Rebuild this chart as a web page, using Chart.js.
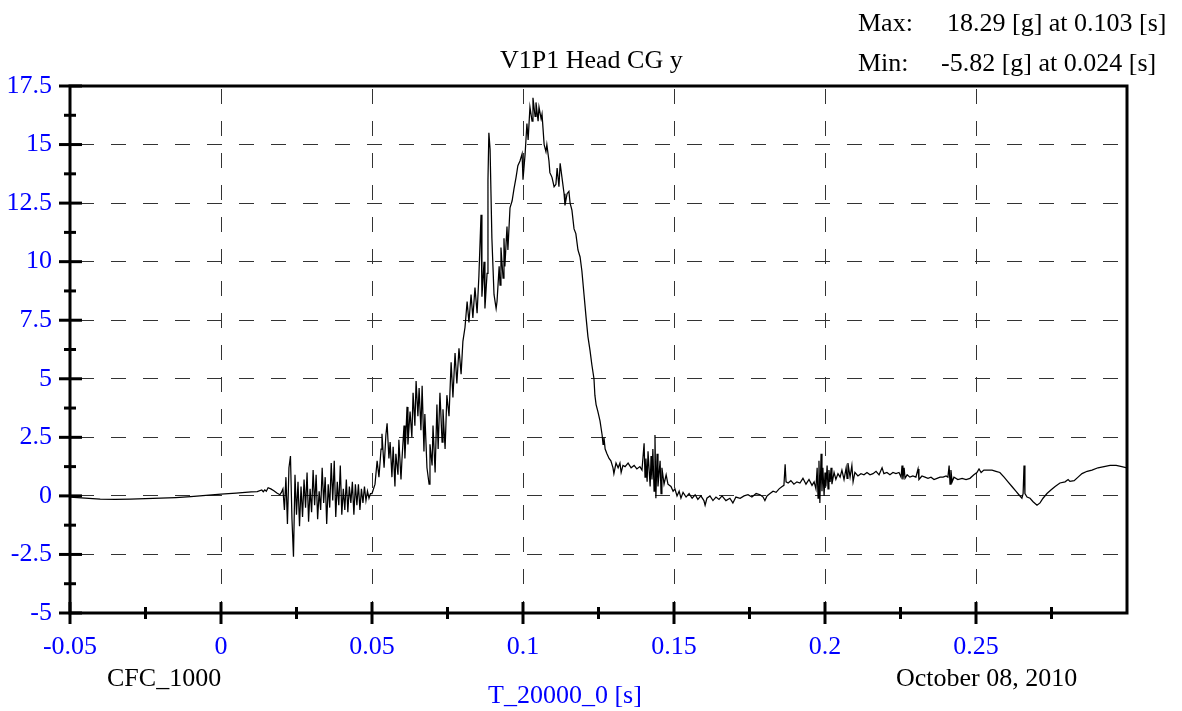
<!DOCTYPE html>
<html>
<head>
<meta charset="utf-8">
<script src="https://cdn.jsdelivr.net/npm/chart.js@4.4.0/dist/chart.umd.min.js"></script>
<style>
html,body{margin:0;padding:0;background:#fff;}
#wrap{position:relative;width:1182px;height:711px;overflow:hidden;font-family:'Liberation Serif','Times New Roman',serif;}
#wrap canvas{position:absolute;left:0;top:0;}
.t{position:absolute;font-size:26px;line-height:26px;white-space:nowrap;color:#000;}
.blue{color:#0000ff;}
</style>
</head>
<body>
<div id="wrap">
<canvas id="c" width="1182" height="711"></canvas>
<div class="t" style="left:858px;top:10px">Max:</div>
<div class="t" style="left:947px;top:10px">18.29 [g] at 0.103 [s]</div>
<div class="t" style="left:858px;top:50px">Min:</div>
<div class="t" style="left:941px;top:50px">-5.82 [g] at 0.024 [s]</div>
<div class="t" style="left:500px;top:47px">V1P1 Head CG y</div>
<div class="t" style="left:107px;top:665px">CFC_1000</div>
<div class="t" style="left:896px;top:665px">October 08, 2010</div>
<div class="t blue" style="left:488px;top:682px">T_20000_0 [s]</div>
</div>
<script>
// ---- data (time in s, acceleration in g) ----
const timeQuiet = [
-0.05,-0.045,-0.04,-0.035,-0.03,-0.025,-0.02,-0.015,-0.01,-0.005,
0,0.005,0.008,0.01,0.012,0.0135,0.014,0.0145,0.015,0.0156,
0.0165,0.0175,0.0185,0.0195,0.02];
const accelQuiet = [
-0.05,-0.10,-0.14,-0.15,-0.14,-0.12,-0.10,-0.07,-0.03,0.02,
0.08,0.12,0.15,0.17,0.18,0.25,0.18,0.26,0.20,0.35,
0.30,0.22,0.12,0.05,0.15];

const timeNoise = [
0.0205,0.021,0.0215,0.022,0.0225,0.023,0.0235,0.024,0.0245,0.025,
0.0255,0.026,0.0265,0.027,0.0275,0.028,0.0285,0.029,0.0295,0.03,
0.0305,0.031,0.0315,0.032,0.0325,0.033,0.0335,0.034,0.0345,0.035,
0.0355,0.036,0.0365,0.037,0.0375,0.038,0.0385,0.039,0.0395,0.04,
0.0405,0.041,0.0415,0.042,0.0425,0.043,0.0435,0.044,0.0445,0.045,
0.0455,0.046,0.0465,0.047,0.0475,0.048,0.0485,0.049,0.0495,0.05];
const accelNoise = [
0.3,-0.6,0.8,-1.2,1.2,1.7,-1.0,-2.6,0.9,-0.8,
0.6,-1.3,0.4,-0.9,0.7,-0.5,1.0,-1.1,0.3,-0.7,
1.1,-0.4,0.9,-1.0,0.2,-0.6,1.2,-0.3,0.8,-1.2,
0.5,-0.5,1.4,-0.2,1.5,-0.9,0.6,-0.4,1.3,-0.8,
0.3,-0.6,0.7,-0.7,0.4,-0.3,0.6,-0.8,0.5,-0.4,
0.5,-0.6,0.3,-0.3,0.4,-0.2,0.2,-0.1,0.1,0.1];

const timePulse = [
0.0510,0.0517,0.0523,0.0530,0.0533,0.0540,0.0546,0.0550,0.0556,0.0560,
0.0566,0.0570,0.0576,0.0579,0.0586,0.0589,0.0596,0.0599,0.0606,0.0609,
0.0616,0.0619,0.0626,0.0632,0.0636,0.0642,0.0646,0.0652,0.0656,0.0662,
0.0666,0.0672,0.0675,0.0682,0.0689,0.0692,0.0699,0.0702,0.0709,0.0715,
0.0719,0.0725,0.0732,0.0735,0.0742,0.0748,0.0755,0.0762,0.0768,0.0775,
0.0781,0.0788,0.0795,0.0801,0.0808,0.0815,0.0821,0.0828,0.0834,0.0841,
0.0848,0.0854,0.0861,0.0864,0.0871,0.0874,0.0881,0.0884,0.0887,0.0891,
0.0897,0.0904,0.0911,0.0914,0.0921,0.0924,0.0927,0.0934,0.0937,0.0940,
0.0947,0.0950,0.0957,0.0964,0.0970,0.0977,0.0983,0.0990,0.0997,0.1000,
0.1007,0.1013,0.1017,0.1023,0.1030,0.1033,0.1040,0.1043,0.1050,0.1053,
0.1060,0.1063,0.1070,0.1076,0.1079,0.1086,0.1089,0.1096,0.1103,0.1109,
0.1113,0.1119,0.1123,0.1129,0.1136,0.1139,0.1146,0.1152,0.1156,0.1162,
0.1169,0.1175,0.1182,0.1189,0.1195,0.1202,0.1209,0.1215,0.1222,0.1228,
0.1235,0.1238,0.1242,0.1248,0.1255,0.1262,0.1265,0.1268,0.1272,0.1278,
0.1285,0.1291,0.1298,0.1301,0.1308,0.1315,0.1321,0.1325,0.1331,0.1338,
0.1348,0.1358,0.1368,0.1377,0.1387,0.1394];
const accelPulse = [
0.5,1.5,0.8,2.0,2.65,1.2,2.6,3.1,1.6,2.3,
0.8,2.1,0.4,1.8,0.9,2.4,0.7,1.5,3.0,1.6,
3.8,2.2,3.6,2.5,4.4,3.0,4.9,3.4,4.6,2.8,
4.7,1.9,3.5,1.2,0.5,2.2,1.3,3.0,1.0,3.9,
2.0,4.4,2.3,3.7,2.0,4.3,3.4,5.7,4.2,6.1,
4.8,6.3,5.2,6.6,7.2,8.3,7.4,8.6,7.6,8.9,
7.8,9.4,12.0,8.5,10.0,8.0,9.5,13.5,15.5,14.8,
11.0,8.6,8.0,8.3,9.8,9.0,10.6,9.3,11.0,9.8,
11.5,10.5,12.3,12.6,13.1,13.6,14.1,14.3,14.6,13.5,
14.6,15.9,15.2,16.6,16.0,17.0,16.2,16.8,16.0,16.6,
16.1,16.3,15.0,14.7,15.0,14.3,13.8,13.6,13.2,13.3,
14.0,13.2,14.2,13.6,12.9,12.4,12.9,13.0,12.5,12.2,
11.4,11.2,10.5,10.2,9.6,8.6,7.6,6.8,6.2,5.6,
5.0,4.3,3.9,3.6,3.2,2.6,2.2,2.5,2.0,1.8,
1.6,1.5,1.2,0.95,1.4,1.2,1.4,1.0,1.3,1.25,
1.4,1.2,1.3,1.15,1.25,1.1];

const timeTail = [
0.1401,0.1404,0.1407,0.1411,0.1414,0.1421,0.1424,0.1427,0.1430,0.1434,
0.1437,0.1440,0.1444,0.1447,0.1454,0.1457,0.1460,0.1467,0.1474,0.1480,
0.1490,0.1497,0.1503,0.1510,0.1517,0.1523,0.1530,0.1540,0.1550,0.1560,
0.1570,0.1579,0.1589,0.1599,0.1603,0.1609,0.1619,0.1629,0.1639,0.1649,
0.1659,0.1672,0.1685,0.1695,0.1705,0.1719,0.1732,0.1745,0.1758,0.1772,
0.1785,0.1795,0.1801,0.1808,0.1818,0.1828,0.1838,0.1848,0.1858,0.1864,
0.1868,0.1871,0.1878,0.1887,0.1897,0.1907,0.1917,0.1927,0.1937,0.1947,
0.1957,0.1964,0.1970,0.1974,0.1977,0.1980,0.1983,0.1987,0.1990,0.1993,
0.1997,0.2000,0.2003,0.2007,0.2010,0.2013,0.2017,0.2020,0.2023,0.2030,
0.2036,0.2043,0.2050,0.2056,0.2063,0.2070,0.2073,0.2076,0.2083,0.2089,
0.2093,0.2099,0.2109,0.2119,0.2129,0.2139,0.2149,0.2159,0.2169,0.2179,
0.2189,0.2195,0.2205,0.2215,0.2225,0.2235,0.2245,0.2252,0.2255,0.2258,
0.2262,0.2265,0.2272,0.2281,0.2291,0.2301,0.2308,0.2311,0.2321,0.2331,
0.2341,0.2351,0.2361,0.2371,0.2381,0.2391,0.2401,0.2407,0.2411,0.2414,
0.2417,0.2421,0.2427,0.2440,0.2454,0.2467,0.2480,0.2493,0.2503,0.2510,
0.2517,0.2526,0.2540,0.2553,0.2566,0.2579,0.2593,0.2606,0.2619,0.2632,
0.2642,0.2652,0.2656,0.2659,0.2662,0.2669,0.2679,0.2689,0.2702,0.2712,
0.2722,0.2735,0.2748,0.2762,0.2778,0.2795,0.2805,0.2811,0.2825,0.2838,
0.2851,0.2868,0.2884,0.2904,0.2924,0.2944,0.2964,0.2983,0.3000];
const accelTail = [
2.25,0.8,1.6,0.6,1.9,0.4,1.7,0.7,2.0,0.2,
2.6,-0.1,1.8,0.4,1.5,0.1,1.2,0.5,0.9,0.5,
0.4,0.2,0.3,0.0,0.2,-0.1,0.15,-0.05,0.1,-0.1,
0.05,-0.15,0.0,-0.2,-0.4,-0.1,0.0,-0.2,-0.05,-0.15,
0.0,-0.2,-0.1,-0.3,-0.05,-0.1,0.0,0.05,-0.05,0.1,
0.05,-0.05,-0.2,0.0,0.1,0.2,0.15,0.3,0.4,0.45,
1.35,0.6,0.55,0.65,0.5,0.6,0.55,0.75,0.5,0.7,
0.45,0.6,0.3,1.2,-0.1,1.5,-0.3,1.8,0.2,1.2,
0.0,1.0,0.4,1.3,0.3,1.1,0.6,1.2,0.5,1.0,
0.7,0.95,0.8,1.1,0.7,1.2,0.75,1.4,0.8,1.3,
0.6,1.0,0.85,0.95,0.9,1.0,0.9,0.95,1.05,0.9,
1.2,0.95,1.0,0.9,1.0,0.95,1.0,0.8,1.3,0.7,
1.2,0.75,0.9,0.8,0.85,0.8,1.15,0.7,0.85,0.8,
0.75,0.8,0.7,0.75,0.8,0.8,0.85,0.8,1.3,0.5,
1.1,0.6,0.8,0.7,0.75,0.7,0.75,0.9,1.0,1.15,
1.0,1.1,1.1,1.1,1.05,1.0,0.8,0.6,0.4,0.2,
0.05,-0.1,0.1,1.3,0.1,-0.05,-0.1,-0.25,-0.4,-0.3,
-0.1,0.1,0.25,0.4,0.55,0.6,0.7,0.62,0.65,0.8,
0.95,1.05,1.1,1.2,1.25,1.3,1.3,1.25,1.2];

// ---- axes ----
const xRange = [-0.05, 0.3];
const yRange = [-5, 17.5];
const xMajorTicks = [-0.05, 0, 0.05, 0.1, 0.15, 0.2, 0.25];
const xMinorTicks = [-0.025, 0.025, 0.075, 0.125, 0.175, 0.225, 0.275];
const yMajorTicks = [-5, -2.5, 0, 2.5, 5, 7.5, 10, 12.5, 15, 17.5];
const yMinorTicks = [-3.75, -1.25, 1.25, 3.75, 6.25, 8.75, 11.25, 13.75, 16.25];

const times = [].concat(timeQuiet, timeNoise, timePulse, timeTail);
const accels = [].concat(accelQuiet, accelNoise, accelPulse, accelTail);
const points = times.map((t, i) => ({x: t, y: accels[i]}));

const FONT = "'Liberation Serif','Times New Roman',serif";

const frameTicks = {
  id: 'frameTicks',
  afterDatasetsDraw(chart) {
    const {ctx, chartArea: a, scales: {x, y}} = chart;
    ctx.save();
    ctx.strokeStyle = '#000';
    ctx.lineWidth = 3;
    ctx.lineCap = 'butt';
    ctx.beginPath();
    ctx.rect(a.left, a.top, a.right - a.left, a.bottom - a.top);
    ctx.stroke();
    const seg = (x1, y1, x2, y2) => { ctx.beginPath(); ctx.moveTo(x1, y1); ctx.lineTo(x2, y2); ctx.stroke(); };
    yMajorTicks.forEach(v => { const p = y.getPixelForValue(v); seg(a.left - 11, p, a.left + 12, p); });
    yMinorTicks.forEach(v => { const p = y.getPixelForValue(v); seg(a.left - 6, p, a.left + 6, p); });
    xMajorTicks.forEach(v => { const p = x.getPixelForValue(v); seg(p, a.bottom - 11, p, a.bottom + 11); });
    xMinorTicks.forEach(v => { const p = x.getPixelForValue(v); seg(p, a.bottom - 6, p, a.bottom + 6); });
    ctx.restore();
  }
};

new Chart(document.getElementById('c'), {
  type: 'line',
  data: {
    datasets: [{
      data: points,
      borderColor: '#000',
      borderWidth: 1.25,
      pointRadius: 0,
      tension: 0,
      fill: false
    }]
  },
  options: {
    responsive: false,
    animation: false,
    layout: {padding: {top: 86, right: 55, left: 0, bottom: 0}},
    plugins: {legend: {display: false}, tooltip: {enabled: false}, title: {display: false}},
    scales: {
      x: {
        type: 'linear',
        min: xRange[0], max: xRange[1],
        afterFit(s) { s.height = 98; },
        afterBuildTicks(s) { s.ticks = xMajorTicks.map(v => ({value: v})); },
        ticks: {
          color: '#0000ff', padding: 19, maxRotation: 0, autoSkip: false,
          font: {family: FONT, size: 26},
          callback: v => String(+(+v).toFixed(3))
        },
        grid: {color: '#333', lineWidth: 1, drawTicks: false},
        border: {display: false, dash: [15, 17], dashOffset: 29}
      },
      y: {
        type: 'linear',
        min: yRange[0], max: yRange[1],
        afterFit(s) { s.width = 70; },
        afterBuildTicks(s) { s.ticks = yMajorTicks.map(v => ({value: v})); },
        ticks: {
          color: '#0000ff', padding: 18,
          font: {family: FONT, size: 26},
          callback: v => String(v)
        },
        grid: {color: '#333', lineWidth: 1, drawTicks: false},
        border: {display: false, dash: [15, 17], dashOffset: 23}
      }
    }
  },
  plugins: [frameTicks]
});
</script>
</body>
</html>
